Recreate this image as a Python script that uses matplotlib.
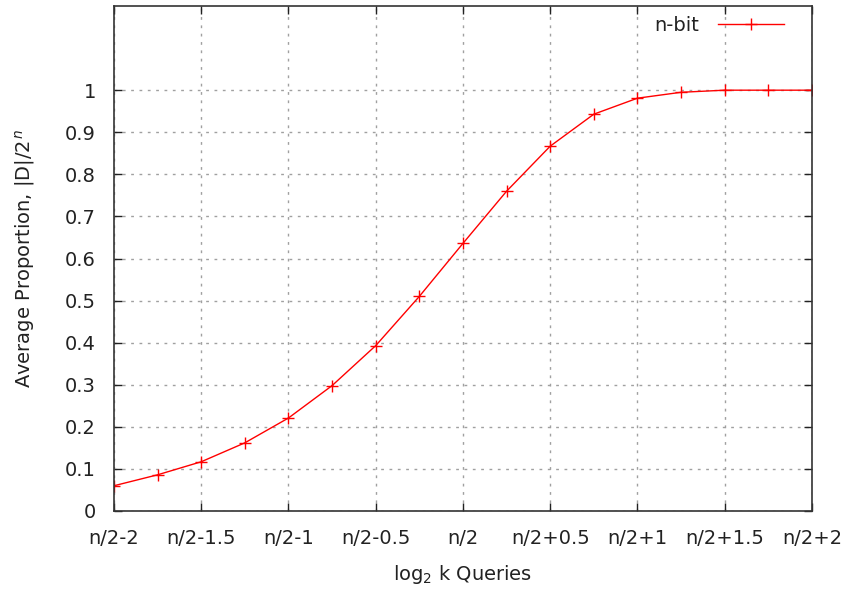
import matplotlib
matplotlib.use("Agg")
import matplotlib.pyplot as plt

x_offsets = [-2, -1.75, -1.5, -1.25, -1, -0.75, -0.5, -0.25, 0, 0.25, 0.5, 0.75, 1, 1.25, 1.5, 1.75, 2]
proportion = [0.060, 0.086, 0.117, 0.162, 0.221, 0.298, 0.393, 0.510, 0.636, 0.760, 0.867,
              0.943, 0.981, 0.995, 1.0, 1.0, 1.0]
xtick_vals = [-2, -1.5, -1, -0.5, 0, 0.5, 1, 1.5, 2]
xtick_labels = ["n/2-2", "n/2-1.5", "n/2-1", "n/2-0.5", "n/2", "n/2+0.5", "n/2+1", "n/2+1.5", "n/2+2"]
ytick_vals = [0, 0.1, 0.2, 0.3, 0.4, 0.5, 0.6, 0.7, 0.8, 0.9, 1]
ytick_labels = ["0", "0.1", "0.2", "0.3", "0.4", "0.5", "0.6", "0.7", "0.8", "0.9", "1"]

FS = 14
plt.rcParams['font.family'] = ['DejaVu Sans']
fig = plt.figure(figsize=(8.43, 5.9), dpi=100)
ax = fig.add_axes([0.1352, 0.1339, 0.9632 - 0.1352, 0.9898 - 0.1339])

ax.plot(x_offsets, proportion, color='red', lw=1, marker='+', markersize=8,
        markeredgewidth=1, label='n-bit', clip_on=True)

ax.set_xlim(-2, 2)
ax.set_ylim(0, 1.2)
ax.set_xticks(xtick_vals)
ax.set_xticklabels(xtick_labels)
ax.set_yticks(ytick_vals)
ax.set_yticklabels(ytick_labels)
ax.tick_params(direction='in', top=True, right=True, length=6, width=1,
               labelsize=FS, colors='#222222', pad=13)
ax.tick_params(axis='y', pad=13)
ax.grid(True, color='#a0a0a0', linestyle=(0, (2, 4)), linewidth=1)
for s in ax.spines.values():
    s.set_color('#333333')
    s.set_linewidth(1.2)

ax.set_xlabel('log$_2$ k Queries', fontsize=FS, color='#222222', labelpad=11)
ax.set_ylabel('Average Proportion, |D|/2$^{\\,n}$', fontsize=FS, color='#222222', labelpad=20)

leg = ax.legend(loc='upper right', frameon=False, markerfirst=False, fontsize=FS,
                handlelength=3.4, borderaxespad=0, handletextpad=1.0,
                bbox_to_anchor=(0.9395, 0.986), bbox_transform=fig.transFigure)
for t in leg.get_texts():
    t.set_color('#222222')

fig.savefig('out.png', dpi=100)
